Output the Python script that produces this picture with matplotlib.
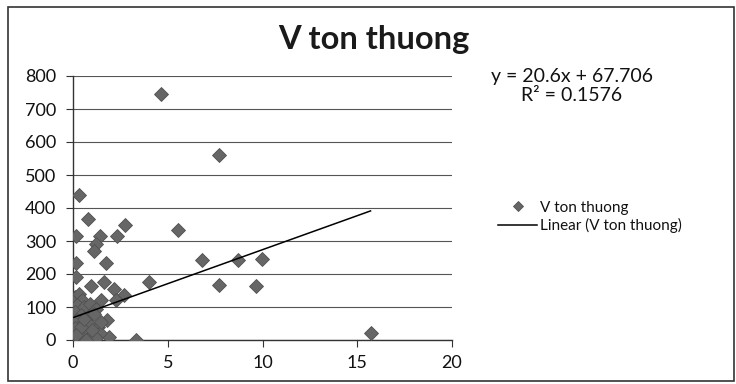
import matplotlib.pyplot as plt
import numpy as np

plt.rcParams['font.family'] = ['Lato', 'DejaVu Sans']

# so lieu doc tu bieu do
x_vals = [4.65, 7.7, 0.3, 0.8, 0.15, 1.4, 1.2, 1.1, 2.3, 2.75, 5.55,
          0.15, 1.75, 0.15, 0.95, 1.65, 2.15, 2.7, 4.0, 6.8, 8.7, 9.95,
          7.7, 9.65, 3.35, 1.8, 1.9, 15.7, 1.5, 2.25,
          0.1, 0.3, 0.5, 0.2, 0.6, 0.9, 1.2, 0.1, 0.4, 0.8, 1.1, 0.2,
          0.5, 0.9, 1.3, 0.1, 0.3, 0.6, 1.0, 1.4, 0.2, 0.5, 0.8, 1.2,
          0.05, 0.35, 0.7, 1.5, 1.0, 0.4, 0.15, 0.6]
y_vals = [745, 560, 440, 368, 315, 315, 290, 270, 316, 348, 333,
          234, 233, 190, 165, 175, 155, 135, 177, 242, 243, 245,
          167, 164, 0, 62, 8, 20, 120, 120,
          130, 140, 120, 105, 100, 110, 95, 85, 75, 70, 80, 60,
          50, 45, 40, 35, 25, 20, 15, 20, 10, 5, 2, 5,
          0, 0, 0, 55, 30, 40, 15, 65]
slope = 20.6
intercept = 67.706
r2 = 0.1576

x_vals = np.array(x_vals)
y_vals = np.array(y_vals)
trend_x = np.array([x_vals.min(), x_vals.max()])
trend_y = slope * trend_x + intercept

fig = plt.figure(figsize=(7.36, 3.84), dpi=100)
ax = fig.add_axes([73 / 736, 44 / 384, 379 / 736, 264 / 384])

ax.plot(x_vals, y_vals, linestyle='none', marker='D', markersize=7.5,
        color='#666666', markeredgecolor='#505050', markeredgewidth=0.6,
        label='V ton thuong', zorder=3)
ax.plot(trend_x, trend_y, color='black', linewidth=1.1,
        label='Linear (V ton thuong)', zorder=4)

ax.set_xlim(0, 20)
ax.set_ylim(0, 800)
ax.set_xticks(range(0, 21, 5))
ax.set_yticks(range(0, 801, 100))
ax.grid(axis='y', color='#555555', linewidth=0.8)
ax.set_axisbelow(True)
for s in ['top', 'right']:
    ax.spines[s].set_visible(False)
for s in ['left', 'bottom']:
    ax.spines[s].set_color('#333333')
    ax.spines[s].set_linewidth(1.0)
ax.tick_params(direction='out', length=5, width=0.8, color='#333333',
               labelsize=13, labelcolor='#111111')
ax.tick_params(axis='y', pad=7)
ax.tick_params(axis='x', pad=6)

fig.text(374 / 736, 1 - 40 / 384, 'V ton thuong', ha='center', va='center',
         fontsize=23.5, fontweight='bold', color='#1a1a1a')
fig.text(572 / 736, 1 - 86 / 384,
         'y = %.1fx + %.3f\nR² = %.4f' % (slope, intercept, r2),
         ha='center', va='center', fontsize=14, color='#111111',
         linespacing=1.2)

ax.legend(loc='center left', bbox_to_anchor=(490 / 736, 1 - 217 / 384),
          bbox_transform=fig.transFigure, frameon=False, markerscale=0.7,
          handlelength=2.6, handletextpad=0.15, labelspacing=0.25,
          borderpad=0, labelcolor='#111111', prop={'size': 11})

fig.add_artist(plt.Rectangle((8 / 736, 3 / 384), 726 / 736, 374 / 384,
                             transform=fig.transFigure, fill=False,
                             edgecolor='#333333', linewidth=1.2))

plt.savefig('out.png')
